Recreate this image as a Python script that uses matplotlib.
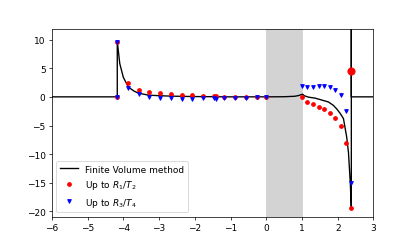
# Finite volume solution vs. truncated series (R1/T2 and R3/T4)

import matplotlib
matplotlib.use("Agg")
import matplotlib.pyplot as plt
import numpy as np

# DATA
# finite volume curve
x_fv = [-6.0, -4.17, -4.17, -4.1, -4.0, -3.86, -3.7, -3.58, -3.3, -3.0, -2.65, -2.0, -1.0,
        0.0, 0.5, 0.8, 0.92, 0.98, 1.02, 1.06, 1.18, 1.37, 1.6, 1.74, 1.88, 1.97, 2.07,
        2.16, 2.25, 2.30, 2.35, 2.38, 2.38, 2.38, 3.0]
y_fv = [0.0, 0.0, 9.7, 5.8, 3.4, 1.7, 1.0, 0.65, 0.3, 0.2, 0.12, 0.05, 0.0,
        0.0, 0.02, 0.1, 0.25, 0.4, 0.45, 0.2, -0.05, -0.23, -0.64, -0.9, -1.5, -2.1, -2.9,
        -3.8, -7.0, -9.7, -14.9, -19.4, 15.0, 0.0, 0.0]

# points, left of the gray band
x_left = [-4.17, -4.17, -3.87, -3.57, -3.27, -2.97, -2.67, -2.37, -2.07, -1.77, -1.47,
          -1.4, -1.17, -0.87, -0.57, -0.27, 0.0]
r_left = [9.65, 0.0, 2.39, 1.27, 0.87, 0.64, 0.47, 0.35, 0.29, 0.23, 0.17,
          0.17, 0.05, 0.03, 0.02, 0.02, 0.0]
b_left = [9.65, 0.0, 1.62, 0.47, 0.05, -0.17, -0.23, -0.29, -0.29, -0.23, -0.23,
          -0.4, -0.2, -0.17, -0.12, -0.1, 0.0]

# points, right of the gray band
x_right = [1.0, 1.15, 1.31, 1.47, 1.62, 1.77, 1.93, 2.08, 2.24, 2.38]
r_right = [-0.05, -0.85, -1.3, -1.75, -2.2, -2.8, -3.7, -5.1, -8.0, -19.4]
b_right = [1.87, 1.8, 1.8, 1.87, 1.87, 1.75, 1.25, 0.25, -2.5, -15.1]

# isolated large point
x_big = [2.38]
r_big = [4.5]

x_red = x_left + x_right
y_red = r_left + r_right
x_blue = x_left + x_right
y_blue = b_left + b_right

fig = plt.figure(figsize = (6.4, 3.84))
ax = fig.add_subplot(111)
fig.subplots_adjust(bottom = 0.126, top = 0.881)

ax.axvspan(0, 1, color = 'lightgray', zorder = 0)
ax.plot(x_fv, y_fv, 'k-', linewidth = 1.5, label = 'Finite Volume method')
ax.plot(x_red, y_red, 'ro', markersize = 4.2, label = 'Up to $R_1/T_2$')
ax.plot(x_blue, y_blue, 'bv', markersize = 4.2, label = 'Up to $R_3/T_4$')
ax.plot(x_big, r_big, 'ro', markersize = 8)

plt.xlim((-6, 3))
plt.ylim((-20.9, 11.9))
plt.xticks(np.arange(-6, 4, 1))
plt.yticks(np.arange(-20, 11, 5))

ax.legend(loc = 'lower left', numpoints = 1)

plt.savefig("out.png", dpi = 64.84)
